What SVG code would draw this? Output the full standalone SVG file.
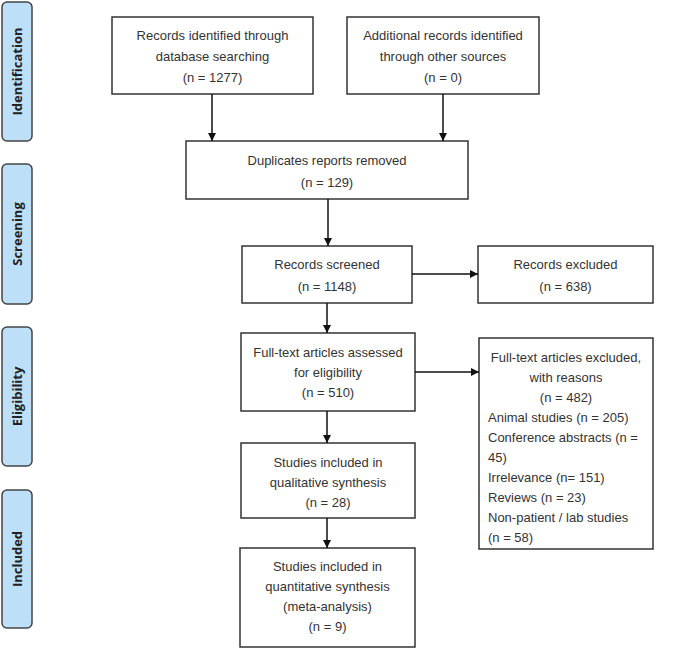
<svg xmlns="http://www.w3.org/2000/svg" width="685" height="665" viewBox="0 0 685 665">
<style>
.box{fill:#fff;stroke:#333;stroke-width:1.5}
.phase{fill:#bde0f8;stroke:#444;stroke-width:1.5}
.t{font-family:"Liberation Sans",Arial,sans-serif;font-size:13px;fill:#333;text-anchor:middle}
.tl{font-family:"Liberation Sans",Arial,sans-serif;font-size:13px;fill:#333}
.pt{font-family:"Open Sans","DejaVu Sans",sans-serif;font-size:13px;font-weight:bold;fill:#222;text-anchor:middle}
.c{stroke:#111;stroke-width:1.5;fill:none;marker-end:url(#ah)}
</style>
<defs>
<marker id="ah" viewBox="0 0 10 10" refX="10" refY="5" markerWidth="8" markerHeight="8" markerUnits="userSpaceOnUse" orient="auto">
<path d="M0,0 L10,5 L0,10 z" fill="#111"/>
</marker>
</defs>
<rect width="685" height="665" fill="#fff"/>
<g id="phase-identification">
<rect class="phase" x="2" y="2" width="30" height="139" rx="5"/>
<text class="pt" transform="translate(21.5,71.5) rotate(-90)">Identification</text>
</g>
<g id="phase-screening">
<rect class="phase" x="2" y="164" width="30" height="140" rx="5"/>
<text class="pt" transform="translate(21.5,234) rotate(-90)">Screening</text>
</g>
<g id="phase-eligibility">
<rect class="phase" x="2" y="327" width="30" height="139" rx="5"/>
<text class="pt" transform="translate(21.5,396.5) rotate(-90)">Eligibility</text>
</g>
<g id="phase-included">
<rect class="phase" x="2" y="490" width="30" height="138" rx="5"/>
<text class="pt" transform="translate(21.5,559) rotate(-90)">Included</text>
</g>
<g id="n-db">
<rect class="box" x="112" y="17" width="201" height="77"/>
<text class="t" x="212.5" y="40">Records identified through</text>
<text class="t" x="212.5" y="61">database searching</text>
<text class="t" x="212.5" y="82">(n = 1277)</text>
</g>
<g id="n-other">
<rect class="box" x="347" y="17" width="192" height="77"/>
<text class="t" x="443" y="40">Additional records identified</text>
<text class="t" x="443" y="61">through other sources</text>
<text class="t" x="443" y="82">(n = 0)</text>
</g>
<g id="n-dup">
<rect class="box" x="186" y="141" width="282" height="58"/>
<text class="t" x="327" y="165">Duplicates reports removed</text>
<text class="t" x="327" y="187">(n = 129)</text>
</g>
<g id="n-screened">
<rect class="box" x="242" y="246" width="170" height="57"/>
<text class="t" x="327" y="269">Records screened</text>
<text class="t" x="327" y="291">(n = 1148)</text>
</g>
<g id="n-excluded">
<rect class="box" x="478" y="246" width="175" height="57"/>
<text class="t" x="565.5" y="269">Records excluded</text>
<text class="t" x="565.5" y="291">(n = 638)</text>
</g>
<g id="n-fulltext">
<rect class="box" x="241" y="333" width="174" height="78"/>
<text class="t" x="328" y="357">Full-text articles assessed</text>
<text class="t" x="328" y="377">for eligibility</text>
<text class="t" x="328" y="397">(n = 510)</text>
</g>
<g id="n-ftexcluded">
<rect class="box" x="479" y="338" width="174" height="211"/>
<text class="t" x="566" y="362">Full-text articles excluded,</text>
<text class="t" x="566" y="382">with reasons</text>
<text class="t" x="566" y="402">(n = 482)</text>
<text class="tl" x="488" y="422">Animal studies (n = 205)</text>
<text class="tl" x="488" y="442">Conference abstracts (n =</text>
<text class="tl" x="488" y="462">45)</text>
<text class="tl" x="488" y="482">Irrelevance (n= 151)</text>
<text class="tl" x="488" y="502">Reviews (n = 23)</text>
<text class="tl" x="488" y="522">Non-patient / lab studies</text>
<text class="tl" x="488" y="542">(n = 58)</text>
</g>
<g id="n-qual">
<rect class="box" x="241" y="443" width="174" height="75"/>
<text class="t" x="328" y="467">Studies included in</text>
<text class="t" x="328" y="487">qualitative synthesis</text>
<text class="t" x="328" y="507">(n = 28)</text>
</g>
<g id="n-quant">
<rect class="box" x="240" y="548" width="175" height="99"/>
<text class="t" x="327.5" y="571">Studies included in</text>
<text class="t" x="327.5" y="591">quantitative synthesis</text>
<text class="t" x="327.5" y="611">(meta-analysis)</text>
<text class="t" x="327.5" y="631">(n = 9)</text>
</g>
<g id="connectors">
<path class="c" d="M212,94 V141"/>
<path class="c" d="M443,94 V141"/>
<path class="c" d="M328,199 V246"/>
<path class="c" d="M412,274 H478"/>
<path class="c" d="M327,303 V333"/>
<path class="c" d="M415,372 H479"/>
<path class="c" d="M327,411 V443"/>
<path class="c" d="M327,518 V548"/>
</g>
</svg>
